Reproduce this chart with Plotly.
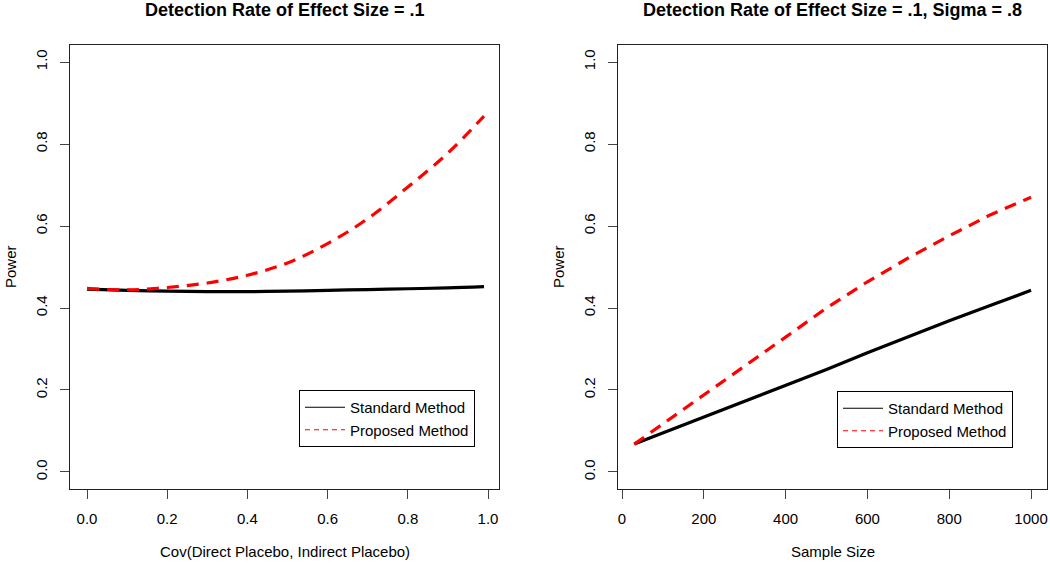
import plotly.graph_objects as go

# left panel: power vs covariance
cov_x = [0.0, 0.1, 0.2, 0.3, 0.4, 0.5, 0.6, 0.7, 0.8, 0.9, 0.99]
cov_standard = [0.446, 0.443, 0.441, 0.440, 0.440, 0.441, 0.443, 0.445, 0.447, 0.449, 0.452]
cov_proposed = [0.448, 0.444, 0.450, 0.461, 0.480, 0.510, 0.557, 0.618, 0.695, 0.778, 0.868]

# right panel: power vs sample size
n_x = [30, 100, 200, 300, 400, 500, 600, 700, 800, 900, 1000]
n_standard = [0.068, 0.095, 0.134, 0.172, 0.211, 0.250, 0.291, 0.331, 0.369, 0.406, 0.443]
n_proposed = [0.068, 0.117, 0.188, 0.259, 0.329, 0.400, 0.464, 0.522, 0.576, 0.627, 0.670]

titles = ["Detection Rate of Effect Size = .1",
          "Detection Rate of Effect Size = .1, Sigma = .8"]
xtitles = ["Cov(Direct Placebo, Indirect Placebo)", "Sample Size"]
legend_names = ["Standard Method", "Proposed Method"]

W, H = 1050, 563
FONT = "Liberation Sans, Arial, Helvetica, sans-serif"
RED = "#ff0000"
DASH = "12px,8px"

fig = go.Figure()

# curves
fig.add_trace(go.Scatter(x=cov_x, y=cov_standard, mode="lines", showlegend=False, line_shape="spline",
                         line=dict(color="black", width=3.2), xaxis="x", yaxis="y"))
fig.add_trace(go.Scatter(x=cov_x, y=cov_proposed, mode="lines", showlegend=False, line_shape="spline",
                         line=dict(color=RED, width=3.2, dash=DASH), xaxis="x", yaxis="y"))
fig.add_trace(go.Scatter(x=n_x, y=n_standard, mode="lines", showlegend=False,
                         line=dict(color="black", width=3.2), xaxis="x2", yaxis="y2"))
fig.add_trace(go.Scatter(x=n_x, y=n_proposed, mode="lines", showlegend=False,
                         line=dict(color=RED, width=3.2, dash=DASH), xaxis="x2", yaxis="y2"))

# legend entries (thin lines, like R's legend)
for lg, xa, ya in [("legend", "x", "y"), ("legend2", "x2", "y2")]:
    fig.add_trace(go.Scatter(x=[None], y=[None], mode="lines", name=legend_names[0], legend=lg,
                             line=dict(color="black", width=1.2), xaxis=xa, yaxis=ya))
    fig.add_trace(go.Scatter(x=[None], y=[None], mode="lines", name=legend_names[1], legend=lg,
                             line=dict(color=RED, width=1.2, dash="5px,4px"), xaxis=xa, yaxis=ya))

ydom = [1 - 489 / H, 1 - 45 / H]
axis_common = dict(showline=True, mirror=True, linecolor="#222", linewidth=1,
                   ticks="outside", ticklen=9, tickcolor="#444", tickwidth=1,
                   showgrid=False, zeroline=False, ticklabelstandoff=7,
                   tickfont=dict(size=15, color="black", family=FONT))
yaxis_common = dict(axis_common, range=[-0.0415, 1.0415], tickvals=[0, 0.2, 0.4, 0.6, 0.8, 1.0],
                    ticktext=["0.0", "0.2", "0.4", "0.6", "0.8", "1.0"], tickangle=-90,
                    ticklabelstandoff=7, domain=ydom)

legend_common = dict(bordercolor="black", borderwidth=1, bgcolor="white",
                     font=dict(size=15, color="black", family=FONT),
                     xanchor="right", yanchor="top", tracegroupgap=0, itemwidth=40)

fig.update_layout(
    width=W, height=H,
    margin=dict(l=0, r=0, t=0, b=0),
    paper_bgcolor="white", plot_bgcolor="white",
    font=dict(family=FONT, color="black"),
    xaxis=dict(axis_common, domain=[70 / W, 499 / W], range=[-0.0424, 1.0274],
               tickvals=[0, 0.2, 0.4, 0.6, 0.8, 1.0],
               ticktext=["0.0", "0.2", "0.4", "0.6", "0.8", "1.0"]),
    yaxis=dict(yaxis_common, anchor="x"),
    xaxis2=dict(axis_common, domain=[618 / W, 1047 / W], range=[-9.8, 1039],
                tickvals=[0, 200, 400, 600, 800, 1000], anchor="y2"),
    yaxis2=dict(yaxis_common, anchor="x2"),
    legend=dict(legend_common, x=475 / W, y=1 - 390 / H),
    legend2=dict(legend_common, x=1013 / W, y=1 - 391 / H),
)

annotations = []
for i, (x0, x1) in enumerate([(70, 499), (618, 1047)]):
    cx = (x0 + x1) / 2 / W
    annotations.append(dict(text="<b>" + titles[i] + "</b>", x=cx, y=1 - 10 / H, xref="paper", yref="paper",
                            showarrow=False, xanchor="center", yanchor="middle",
                            font=dict(size=18, color="black", family=FONT)))
    annotations.append(dict(text=xtitles[i], x=cx, y=1 - 551 / H, xref="paper", yref="paper",
                            showarrow=False, xanchor="center", yanchor="middle",
                            font=dict(size=15, color="black", family=FONT)))
    annotations.append(dict(text="Power", x=(x0 - 60) / W, y=1 - 267 / H, xref="paper", yref="paper",
                            showarrow=False, xanchor="center", yanchor="middle", textangle=-90,
                            font=dict(size=15, color="black", family=FONT)))
fig.update_layout(annotations=annotations)

fig.write_html("out.html", config={"displayModeBar": False},
               post_script="document.body.style.margin='0';")
